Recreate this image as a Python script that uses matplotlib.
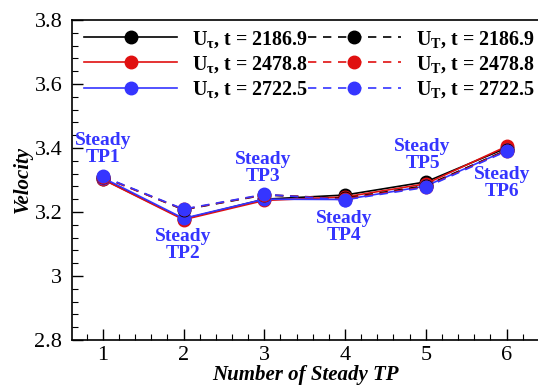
import matplotlib
matplotlib.use("Agg")
import matplotlib.pyplot as plt
from matplotlib.ticker import MultipleLocator

plt.rcParams['font.family'] = ['Liberation Serif', 'DejaVu Serif']
plt.rcParams['mathtext.fontset'] = 'custom'
plt.rcParams['mathtext.rm'] = 'Liberation Serif'
plt.rcParams['mathtext.bf'] = 'Liberation Serif:bold'
plt.rcParams['mathtext.it'] = 'Liberation Serif:italic'

# data
tp = [1, 2, 3, 4, 5, 6]
times = ['2186.9', '2478.8', '2722.5']
colors = ['black', '#e01010', '#3535ff']
u_tau = [
    [3.303, 3.178, 3.240, 3.253, 3.294, 3.400],
    [3.302, 3.176, 3.236, 3.247, 3.288, 3.405],
    [3.307, 3.180, 3.240, 3.239, 3.281, 3.393],
]
u_T = [
    [3.310, 3.207, 3.253, 3.243, 3.282, 3.393],
    [3.309, 3.208, 3.254, 3.241, 3.279, 3.392],
    [3.311, 3.209, 3.255, 3.238, 3.277, 3.390],
]
tp_labels = ['Steady\nTP1', 'Steady\nTP2', 'Steady\nTP3', 'Steady\nTP4', 'Steady\nTP5', 'Steady\nTP6']
label_x = [1.0, 1.99, 2.98, 3.99, 4.96, 5.94]
label_y = [3.397, 3.097, 3.337, 3.153, 3.378, 3.291]

fig = plt.figure(figsize=(5.38, 3.85), dpi=100)
ax = fig.add_axes([0.134, 0.117, 0.866, 0.831])

handles = []
for c, t, ys in zip(colors, times, u_tau):
    h, = ax.plot(tp, ys, '-', color=c, lw=1.2, marker='o', ms=9,
                 label=r'$\mathbf{U_{\tau}}$' + ', t = ' + t)
    handles.append(h)
for c, t, ys in zip(colors, times, u_T):
    h, = ax.plot(tp, ys, '--', color=c, lw=1.2, marker='o', ms=9,
                 dashes=(5, 4), label=r'$\mathbf{U_{T}}$' + ', t = ' + t)
    handles.append(h)

for x, y, s in zip(label_x, label_y, tp_labels):
    ax.text(x, y, s, color='#3535ff', fontsize=14, fontweight='bold',
            ha='center', va='center', linespacing=0.95)

leg = ax.legend(handles=handles, ncol=2, loc='upper left', bbox_to_anchor=(0.0, 1.01),
                frameon=False, handlelength=4.65, handletextpad=0.75,
                columnspacing=0.0, labelspacing=0.22, borderaxespad=0.2,
                prop={'weight': 'bold', 'size': 14.4})

ax.set_xlim(0.62, 6.39)
ax.set_ylim(2.8, 3.8)
ax.xaxis.set_major_locator(MultipleLocator(1))
ax.xaxis.set_minor_locator(MultipleLocator(0.2))
ax.yaxis.set_minor_locator(MultipleLocator(0.04))
ax.set_yticks([2.8, 3.0, 3.2, 3.4, 3.6, 3.8])
ax.set_yticklabels(['2.8', '3', '3.2', '3.4', '3.6', '3.8'])
ax.tick_params(which='both', direction='in', top=False, right=False, labelsize=16)
ax.tick_params(axis='y', pad=7)
ax.tick_params(axis='x', pad=4)
ax.tick_params(which='major', length=8, width=1)
ax.tick_params(which='minor', length=4, width=0.8)
ax.spines['right'].set_visible(False)
for s in ['left', 'bottom', 'top']:
    ax.spines[s].set_linewidth(1.2)

ax.set_xlabel('Number of Steady TP', fontsize=15, fontweight='bold', fontstyle='italic', labelpad=0)
ax.set_ylabel('Velocity', fontsize=15, fontweight='bold', fontstyle='italic', labelpad=1)

fig.savefig('out.png', dpi=100)
